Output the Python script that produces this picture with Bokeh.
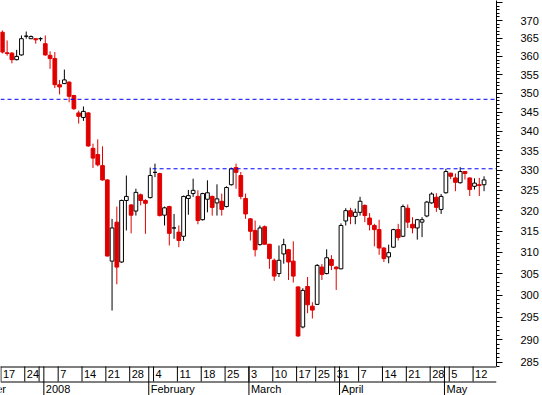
import numpy as np
import pandas as pd
from bokeh.plotting import figure
from bokeh.models import Range1d, FixedTicker, PrintfTickFormatter, ColumnDataSource, LinearScale
from bokeh.embed import file_html
from bokeh.resources import INLINE
from bokeh.core.properties import value

# ---------------- data ----------------
start_date = "2007-12-17"
end_date = "2008-05-14"
holidays = ["2007-12-25", "2007-12-26", "2008-01-01", "2008-03-21", "2008-03-24", "2008-05-01"]
hidden_week_labels = ["2007-12-31"]
first_month_start = "2007-12-03"   # December's first session, off the left edge
month_names = ["December", "2008", "February", "March", "April", "May"]

opens = [366.7, 361.0, 360.9, 359.1, 360.4, 365.6, 364.9, 364.9, 364.9, 363.5,
         360.3, 359.4, 352.3, 352.6, 353.0, 349.4, 344.8, 343.6, 344.8, 335.6,
         334.0, 331.2, 327.6, 307.9, 317.2, 307.7, 322.5, 321.4, 319.9, 323.9,
         322.5, 323.2, 329.5, 329.2, 318.9, 321.0, 315.8, 314.8, 313.8, 323.0,
         324.2, 323.5, 317.8, 322.8, 323.5, 321.9, 322.3, 321.0, 326.4, 330.7,
         328.7, 323.0, 318.0, 315.2, 311.8, 316.1, 311.9, 308.1, 305.0, 309.6,
         310.6, 307.9, 301.9, 292.8, 302.0, 297.5, 297.9, 306.5, 305.0, 308.3,
         306.5, 306.1, 317.5, 320.0, 318.6, 319.6, 321.3, 318.2, 316.4, 315.4,
         311.0, 308.9, 311.2, 315.4, 313.8, 320.6, 316.7, 315.8, 317.2, 318.7,
         321.9, 323.3, 320.3, 324.4, 329.3, 328.1, 326.9, 329.7, 328.1, 326.0,
         326.4, 326.4]
highs = [367.2, 364.4, 361.2, 361.8, 365.8, 366.9, 365.8, 365.0, 365.3, 365.8,
         361.4, 361.2, 353.6, 356.4, 353.2, 349.6, 345.4, 346.5, 345.0, 336.8,
         337.9, 336.1, 327.8, 318.0, 321.0, 322.7, 328.7, 321.6, 325.4, 324.2,
         322.8, 330.7, 331.7, 329.4, 321.0, 321.2, 319.2, 316.4, 323.7, 325.1,
         327.9, 325.0, 324.4, 327.5, 323.7, 326.5, 324.2, 326.0, 330.7, 331.7,
         329.6, 324.2, 318.2, 317.6, 316.4, 316.4, 312.0, 308.5, 311.6, 313.2,
         310.8, 312.6, 302.0, 301.6, 304.2, 298.4, 307.2, 307.2, 310.7, 309.3,
         306.7, 316.9, 320.6, 320.7, 320.5, 323.4, 321.5, 319.4, 316.8, 317.8,
         311.2, 311.8, 315.6, 316.8, 321.5, 321.5, 318.4, 318.0, 318.4, 322.4,
         324.5, 324.3, 324.1, 330.4, 329.4, 329.2, 330.8, 329.8, 328.2, 328.0,
         328.1, 328.5]
lows = [360.8, 360.2, 358.1, 358.9, 360.2, 364.9, 364.8, 363.5, 364.2, 360.2,
        356.6, 351.4, 349.7, 352.5, 347.6, 345.6, 342.0, 342.7, 336.0, 330.6,
        331.0, 327.4, 309.0, 296.5, 302.5, 307.5, 315.2, 314.5, 318.8, 321.3,
        314.4, 323.0, 328.3, 318.6, 316.4, 311.6, 313.2, 311.2, 312.7, 319.0,
        323.4, 316.7, 317.6, 319.6, 318.8, 318.8, 318.8, 320.8, 326.2, 325.4,
        322.8, 318.0, 312.8, 309.0, 311.6, 311.8, 306.1, 303.3, 304.2, 307.3,
        303.5, 302.9, 290.6, 292.5, 295.9, 294.7, 297.8, 303.5, 304.8, 305.8,
        301.2, 306.0, 316.4, 316.7, 316.7, 318.8, 317.2, 315.2, 311.4, 309.4,
        307.7, 307.4, 311.0, 312.8, 313.6, 315.8, 314.5, 313.0, 313.6, 318.4,
        321.7, 319.7, 319.2, 324.2, 327.8, 324.8, 326.7, 327.7, 323.6, 325.2,
        323.6, 324.8]
closes = [361.2, 360.8, 359.1, 360.0, 364.9, 365.6, 365.5, 364.6, 364.9, 360.4,
          359.4, 352.3, 351.7, 353.6, 349.2, 345.9, 343.9, 345.2, 336.2, 333.1,
          331.4, 327.6, 309.1, 315.8, 306.5, 322.5, 323.5, 318.9, 324.5, 322.5,
          321.8, 328.7, 329.5, 318.8, 320.7, 314.5, 315.8, 312.8, 323.5, 323.7,
          325.0, 317.6, 324.2, 324.4, 320.8, 322.9, 320.3, 325.7, 330.4, 329.5,
          323.5, 319.2, 315.0, 310.6, 315.8, 311.9, 308.5, 304.4, 308.1, 311.8,
          307.7, 304.4, 290.8, 301.1, 297.8, 296.6, 306.9, 304.8, 308.7, 306.9,
          306.1, 316.4, 320.0, 318.6, 319.6, 322.3, 318.8, 316.6, 315.4, 311.0,
          308.5, 309.9, 315.4, 313.5, 321.0, 317.2, 315.8, 317.8, 317.8, 322.1,
          324.1, 320.8, 323.5, 329.7, 328.5, 327.0, 329.7, 329.2, 325.2, 326.8,
          326.2, 327.6]

resistance_levels = [348.4, 330.4]
resistance_from = [None, 32]          # session index where the line starts (None = left edge)

y_major = list(range(285, 376, 5))
y_minor = list(range(284, 377))

# ---------------- layout constants (pixels) ----------------
W, H = 542, 395
AXIS_W = 46          # right axis panel
PRICE_H = 366        # height of the price panel
DAY_ROW = 15         # height of the day-number row
PRICE_TOP, PRICE_BOTTOM = 375.7, 284.1

# ---------------- calendar ----------------
dates = [d for d in pd.bdate_range(start_date, end_date) if d.strftime("%Y-%m-%d") not in holidays]
n = len(dates)
idx = np.arange(n)

week_pos, week_lab, month_pos = [], [], []
prev = None
for i, d in enumerate(dates):
    if prev is None or d.isocalendar()[1] != prev.isocalendar()[1]:
        week_pos.append(i)
        week_lab.append("" if d.strftime("%Y-%m-%d") in hidden_week_labels else str(d.day))
    if prev is not None and d.month != prev.month:
        month_pos.append(i)
    prev = d
dec_offset = len(pd.bdate_range(first_month_start, start_date)) - 1
month_pos = [-dec_offset] + month_pos

X0 = -0.39
X1 = X0 + 104.0
RED = "#E00000"

# extend the log range downward so the price panel occupies the top PRICE_H pixels
span_ln = np.log(PRICE_TOP / PRICE_BOTTOM) * H / PRICE_H
Y_LO = PRICE_TOP / np.exp(span_ln)

o = np.array(opens); h = np.array(highs); l = np.array(lows); c = np.array(closes)
up = c >= o
dn = ~up
up_src = ColumnDataSource(dict(x=idx[up], top=c[up], bottom=o[up], high=h[up], low=l[up]))
dn_src = ColumnDataSource(dict(x=idx[dn], top=o[dn], bottom=c[dn], high=h[dn], low=l[dn]))

p = figure(width=W, height=H, title=None,
           x_range=Range1d(X0, X1), y_range=Range1d(Y_LO, PRICE_TOP),
           y_axis_type="log", y_axis_location="right", x_axis_location=None,
           toolbar_location=None, output_backend="svg",
           min_border_left=0, min_border_right=AXIS_W, min_border_top=0, min_border_bottom=0,
           outline_line_color=None, background_fill_color="white", border_fill_color="white")
p.grid.visible = False
p.extra_y_ranges = {"strip": Range1d(0, H)}
p.extra_y_scales = {"strip": LinearScale()}

# candles
p.segment(x0="x", y0="low", x1="x", y1="high", source=dn_src, line_color=RED, line_width=1)
p.segment(x0="x", y0="low", x1="x", y1="high", source=up_src, line_color="black", line_width=1)
p.vbar(x="x", top="top", bottom="bottom", width=0.78, source=dn_src,
       fill_color=RED, line_color=RED, line_width=1)
p.vbar(x="x", top="top", bottom="bottom", width=0.78, source=up_src,
       fill_color="white", line_color="black", line_width=1)

# resistance lines
rx0 = [X0 if s is None else s - 0.5 for s in resistance_from]
p.segment(x0=rx0, y0=resistance_levels, x1=[X1] * len(rx0), y1=resistance_levels,
          line_color="#0000FF", line_width=1, line_dash="4 3")

# price axis
ax = p.yaxis[0]
ax.bounds = (PRICE_BOTTOM, PRICE_TOP)
ax.ticker = FixedTicker(ticks=y_major, minor_ticks=y_minor)
ax.formatter = PrintfTickFormatter(format="%d")
ax.major_label_overrides = {375: ""}
ax.major_tick_out = 6
ax.major_tick_in = 0
ax.minor_tick_out = 3
ax.minor_tick_in = 0
ax.major_label_standoff = 18
ax.major_label_text_font = "Liberation Sans"
ax.major_label_text_font_size = "11px"
ax.major_label_text_color = "black"
ax.axis_line_color = "black"
ax.major_tick_line_color = "black"
ax.minor_tick_line_color = "black"

# ---------------- date strip (bottom of the same frame) ----------------
strip_top = H - PRICE_H                 # bottom edge of the price panel
row_sep = strip_top - DAY_ROW           # line between day and month rows
day_mid = (strip_top + row_sep) / 2
month_mid = row_sep / 2

p.segment(x0=[X0, X0], y0=[strip_top - 0.5, row_sep - 0.5], x1=[X1, X1], y1=[strip_top - 0.5, row_sep - 0.5],
          line_color="black", line_width=1, y_range_name="strip")
wx = [w - 0.3 for w in week_pos]
p.segment(x0=wx, y0=[row_sep] * len(wx), x1=wx, y1=[strip_top] * len(wx),
          line_color="black", line_width=1, y_range_name="strip")
mx = [m - 0.3 for m in month_pos]
p.segment(x0=mx, y0=[0] * len(mx), x1=mx, y1=[strip_top] * len(mx),
          line_color="black", line_width=1, y_range_name="strip")

p.text(x=wx, y=[day_mid] * len(wx), text=week_lab, text_align="left", text_baseline="middle",
       x_offset=2, text_font=value("Liberation Sans"), text_font_size="11px", text_color="black",
       y_range_name="strip")
p.text(x=mx, y=[month_mid] * len(mx), text=month_names, text_align="left", text_baseline="middle",
       x_offset=2, text_font=value("Liberation Sans"), text_font_size="11px", text_color="black",
       y_range_name="strip")

open("out.html", "w").write(file_html(p, INLINE))
